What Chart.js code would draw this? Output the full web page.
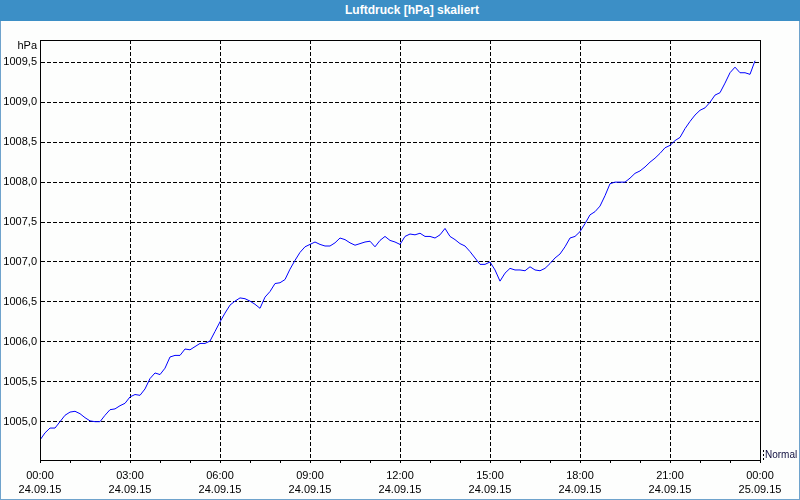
<!DOCTYPE html>
<html>
<head>
<meta charset="utf-8">
<script src="https://cdn.jsdelivr.net/npm/chart.js@4"></script>
<style>
  html, body { margin: 0; padding: 0; background: #fdfefd; }
  #wrap { position: relative; width: 800px; height: 500px; overflow: hidden; background: #fdfefd; }
  #title { position: absolute; left: 0; top: 0; width: 800px; height: 21px; background: #3c8fc6;
           color: #fff; font: bold 12px "Liberation Sans", Arial, sans-serif; line-height: 21px;
           text-align: center; box-sizing: border-box; padding-left: 24px; }
  #frame { position: absolute; left: 0; top: 21px; width: 800px; height: 479px; box-sizing: border-box;
           border-left: 1px solid #6fa3cc; border-right: 1px solid #6fa3cc; border-bottom: 1px solid #6fa3cc; }
  canvas { position: absolute; left: 0; top: 0; }
</style>
</head>
<body>
<div id="wrap">
  <div id="title">Luftdruck [hPa] skaliert</div>
  <div id="frame"><canvas id="c" width="798" height="478"></canvas></div>
</div>
<script>
// Sampling interval: 10 minutes, starting 24.09.15 00:00
const sampleMinutes = 10;
const pressure = [
  1004.77, 1004.86, 1004.92, 1004.92, 1005.00, 1005.08, 1005.12, 1005.13, 1005.10, 1005.05,
  1005.01, 1005.00, 1005.00, 1005.08, 1005.15, 1005.16, 1005.20, 1005.23, 1005.31, 1005.34,
  1005.33, 1005.41, 1005.54, 1005.61, 1005.59, 1005.67, 1005.81, 1005.83, 1005.83, 1005.91,
  1005.90, 1005.94, 1005.98, 1005.98, 1006.01, 1006.13, 1006.25, 1006.36, 1006.46, 1006.51,
  1006.55, 1006.54, 1006.51, 1006.47, 1006.42, 1006.56, 1006.63, 1006.73, 1006.74, 1006.78,
  1006.91, 1007.02, 1007.12, 1007.19, 1007.22, 1007.25, 1007.22, 1007.20, 1007.20, 1007.24,
  1007.30, 1007.28, 1007.24, 1007.21, 1007.23, 1007.25, 1007.26, 1007.19, 1007.27, 1007.32,
  1007.27, 1007.25, 1007.22, 1007.32, 1007.35, 1007.34, 1007.36, 1007.32, 1007.32, 1007.30,
  1007.34, 1007.42, 1007.32, 1007.28, 1007.23, 1007.20, 1007.13, 1007.05, 1006.97, 1006.97,
  1007.00, 1006.90, 1006.76, 1006.86, 1006.92, 1006.90, 1006.90, 1006.89, 1006.94, 1006.90,
  1006.89, 1006.92, 1006.98, 1007.05, 1007.10, 1007.19, 1007.30, 1007.32, 1007.38, 1007.48,
  1007.59, 1007.63, 1007.70, 1007.83, 1007.98, 1008.00, 1008.00, 1008.00, 1008.05, 1008.11,
  1008.14, 1008.19, 1008.25, 1008.30, 1008.36, 1008.43, 1008.46, 1008.52, 1008.56, 1008.67,
  1008.76, 1008.84, 1008.90, 1008.93, 1009.00, 1009.09, 1009.12, 1009.24, 1009.37, 1009.44,
  1009.37, 1009.37, 1009.35, 1009.52
];
const xTickLabels = [
  ["00:00", "24.09.15"], ["03:00", "24.09.15"], ["06:00", "24.09.15"], ["09:00", "24.09.15"],
  ["12:00", "24.09.15"], ["15:00", "24.09.15"], ["18:00", "24.09.15"], ["21:00", "24.09.15"],
  ["00:00", "25.09.15"]
];
const yTickValues = [1005.0, 1005.5, 1006.0, 1006.5, 1007.0, 1007.5, 1008.0, 1008.5, 1009.0, 1009.5];
const yUnit = "hPa";
const legendLabel = "Normal";

const points = pressure.map((v, i) => ({ x: i * sampleMinutes, y: v }));
const FONT = { family: '"Liberation Sans", Arial, sans-serif', size: 11 };

const extras = {
  id: 'extras',
  afterDraw(chart) {
    const { ctx, chartArea: a } = chart;
    ctx.save();
    ctx.strokeStyle = '#000';
    ctx.lineWidth = 1;
    ctx.setLineDash([]);
    ctx.strokeRect(a.left + 0.5, a.top + 0.5, a.right - a.left, a.bottom - a.top);
    ctx.font = '11px "Liberation Sans", Arial, sans-serif';
    ctx.fillStyle = '#000';
    ctx.textAlign = 'right';
    ctx.textBaseline = 'middle';
    ctx.fillText(yUnit, a.left - 3, a.top + 6);
    // legend marker
    ctx.setLineDash([2, 2]);
    ctx.beginPath();
    ctx.moveTo(a.right + 3.5, a.bottom - 10);
    ctx.lineTo(a.right + 3.5, a.bottom);
    ctx.stroke();
    ctx.setLineDash([]);
    ctx.font = '10px "Liberation Sans", Arial, sans-serif';
    ctx.fillStyle = '#101040';
    ctx.textAlign = 'left';
    ctx.fillText(legendLabel, a.right + 5, a.bottom - 5);
    ctx.restore();
  }
};

new Chart(document.getElementById('c'), {
  type: 'line',
  data: {
    datasets: [{
      data: points,
      borderColor: '#0000ff',
      borderWidth: 1,
      pointRadius: 0,
      tension: 0,
      fill: false
    }]
  },
  options: {
    responsive: false,
    animation: false,
    devicePixelRatio: 1,
    layout: { padding: { left: 0, top: 19, right: 39, bottom: 0 } },
    plugins: { legend: { display: false }, tooltip: { enabled: false } },
    scales: {
      x: {
        type: 'linear',
        min: 0,
        max: 1440,
        afterFit(s) { s.height = 39; },
        border: { display: true, color: '#000', width: 1, dash: [4, 2] },
        grid: {
          color: c => (c.tick && c.tick.value % 180 === 0) ? '#000' : 'rgba(0,0,0,0)',
          tickColor: '#000',
          tickBorderDash: [],
          tickLength: 3,
          drawTicks: true,
          lineWidth: 1
        },
        ticks: {
          stepSize: 60,
          autoSkip: false,
          maxRotation: 0,
          padding: 6,
          color: '#000',
          font: { ...FONT, lineHeight: 1.3 },
          callback: v => (v % 180 === 0) ? xTickLabels[v / 180] : ''
        }
      },
      y: {
        type: 'linear',
        min: 1004.52,
        max: 1009.78,
        afterFit(s) { s.width = 39; },
        afterBuildTicks(s) { s.ticks = yTickValues.map(v => ({ value: v })); },
        border: { display: true, color: '#000', width: 1, dash: [4, 2] },
        grid: { color: '#000', drawTicks: false, lineWidth: 1 },
        ticks: {
          padding: 3,
          color: '#000',
          font: FONT,
          callback: v => Number(v).toFixed(1).replace('.', ',')
        }
      }
    }
  },
  plugins: [extras]
});
</script>
</body>
</html>
